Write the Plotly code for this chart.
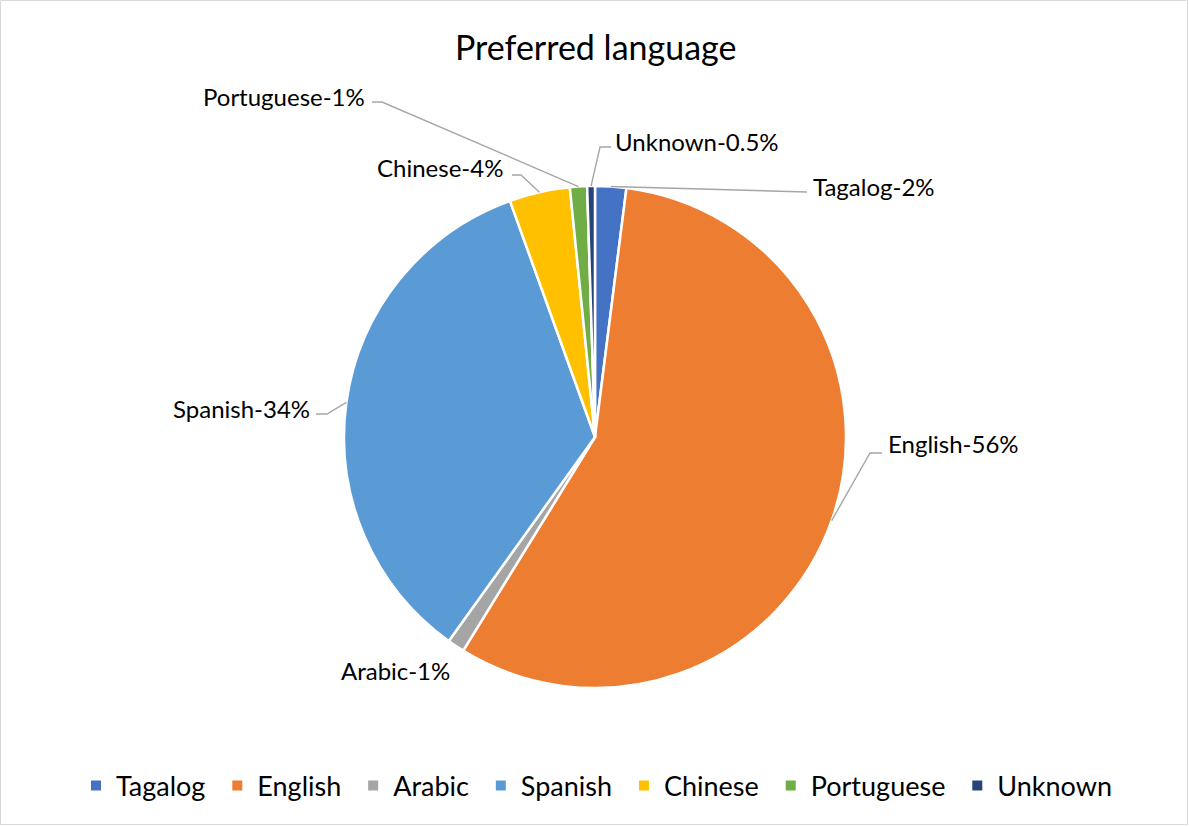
import math
import plotly.graph_objects as go

# ---- data ----
languages = ["Tagalog", "English", "Arabic", "Spanish", "Chinese", "Portuguese", "Unknown"]
shares = [2.0, 56.8, 1.1, 34.6, 3.9, 1.1, 0.5]
label_texts = ["Tagalog-2%", "English-56%", "Arabic-1%", "Spanish-34%",
               "Chinese-4%", "Portuguese-1%", "Unknown-0.5%"]
colors = ["#4472C4", "#ED7D31", "#A5A5A5", "#5B9BD5", "#FFC000", "#70AD47", "#264478"]

W, H = 1189, 826
CX, CY, R = 595, 437, 251
FONT = "Lato"

def px(x):
    return x / W

def py(y):
    return 1 - y / H

# label layout (pixels): anchor point, xanchor, leader elbow points from label side
label_layout = {
    "Tagalog":    dict(pos=(811, 186), xa="left",   elbow=[(807, 192)]),
    "English":    dict(pos=(886, 444), xa="left",   elbow=[(882, 453), (870, 453)]),
    "Arabic":     dict(pos=(395, 670), xa="center", elbow=None),
    "Spanish":    dict(pos=(312, 408), xa="right",  elbow=[(316, 414), (327, 414)]),
    "Chinese":    dict(pos=(505, 167), xa="right",  elbow=[(512, 175), (521, 175)]),
    "Portuguese": dict(pos=(367, 96),  xa="right",  elbow=[(372, 102), (382, 102)]),
    "Unknown":    dict(pos=(613, 141), xa="left",   elbow=[(611, 147), (600, 147)]),
}

fig = go.Figure()
fig.add_trace(go.Pie(
    labels=[name + "\u00a0" for name in languages],
    values=shares,
    sort=False,
    direction="clockwise",
    rotation=0,
    textinfo="none",
    hoverinfo="label+percent",
    marker=dict(colors=colors, line=dict(color="white", width=2.5)),
    domain=dict(x=[px(CX - R), px(CX + R)], y=[py(CY + R), py(CY - R)]),
))

total = sum(shares)
cum = 0.0
annotations = []
shapes = []
for lang, val, txt in zip(languages, shares, label_texts):
    mid = (cum + val / 2) / total * 2 * math.pi
    cum += val
    ex = CX + R * math.sin(mid)
    ey = CY - R * math.cos(mid)
    spec = label_layout[lang]
    lx, ly = spec["pos"]
    annotations.append(dict(
        x=px(lx), y=py(ly), xref="paper", yref="paper",
        text=txt, showarrow=False, xanchor=spec["xa"], yanchor="middle",
        font=dict(family=FONT, size=24, color="#000000"),
    ))
    if spec["elbow"]:
        pts = spec["elbow"] + [(ex, ey)]
        path = "M " + " L ".join(f"{px(a):.5f},{py(b):.5f}" for a, b in pts)
        shapes.append(dict(type="path", path=path, xref="paper", yref="paper",
                           line=dict(color="#A6A6A6", width=1.4)))

# chart border
shapes.append(dict(type="rect", xref="paper", yref="paper",
                   x0=px(0.5), y0=py(824.5), x1=px(1187.5), y1=py(0.5),
                   line=dict(color="#D9D9D9", width=1)))

annotations.append(dict(
    x=px(595), y=py(46), xref="paper", yref="paper", text="Preferred language",
    showarrow=False, xanchor="center", yanchor="middle",
    font=dict(family=FONT, size=34, color="#000000"),
))

fig.update_layout(
    width=W, height=H,
    margin=dict(l=0, r=0, t=0, b=0),
    paper_bgcolor="white",
    plot_bgcolor="white",
    showlegend=True,
    legend=dict(orientation="h", x=px(600), xanchor="center", y=py(786), yanchor="middle",
                font=dict(family=FONT, size=27, color="#000000"),
                itemsizing="constant", traceorder="normal"),
    annotations=annotations,
    shapes=shapes,
    font=dict(family=FONT),
)

fig.write_html("out.html", config={"displayModeBar": False},
               post_script="document.body.style.margin='0';document.body.style.overflow='hidden';")
